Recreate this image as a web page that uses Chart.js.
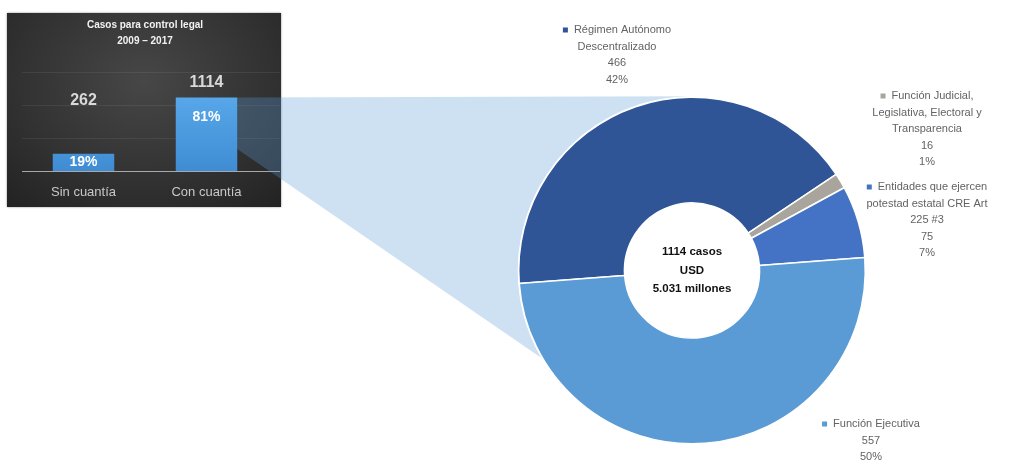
<!DOCTYPE html>
<html>
<head>
<meta charset="utf-8">
<script src="https://cdn.jsdelivr.net/npm/chart.js@4.4.0/dist/chart.umd.min.js"></script>
<style>
  html, body { margin: 0; padding: 0; background: #fff; width: 1018px; height: 462px; overflow: hidden; }
  #stage { position: relative; width: 1018px; height: 462px; }
  #inset {
    position: absolute; left: 7px; top: 13px; width: 274px; height: 194px;
    background: radial-gradient(ellipse 75% 85% at 50% 35%, #474747 0%, #323232 60%, #232323 100%);
    box-shadow: 0 0 2px rgba(0,0,0,0.45);
  }
  #barCanvas { position: absolute; left: 0; top: 0; }
  #donutCanvas { position: absolute; left: 0; top: 0; }
</style>
</head>
<body>
<div id="stage">
  <div id="inset"><canvas id="barCanvas" width="274" height="194"></canvas></div>
  <canvas id="donutCanvas" width="1018" height="462"></canvas>
</div>
<script>
// Inset: cases under legal control, 2009 – 2017
const barCategories = ['Sin cuantía', 'Con cuantía'];
const barValues = [262, 1114];
const barTitle = ['Casos para control legal', '2009 – 2017'];
const barGridTicks = [0, 500, 1000, 1500];

// Breakdown of the cases with an amount, by sector
const sectorNames = [
  'Régimen Autónomo Descentralizado',
  'Función Judicial, Legislativa, Electoral y Transparencia',
  'Entidades que ejercen potestad estatal CRE Art 225 #3',
  'Función Ejecutiva'
];
const sectorLines = [
  ['Régimen Autónomo', 'Descentralizado'],
  ['Función Judicial,', 'Legislativa, Electoral y', 'Transparencia'],
  ['Entidades que ejercen', 'potestad estatal CRE Art', '225 #3'],
  ['Función Ejecutiva']
];
const sectorValues = [466, 16, 75, 557];
const centerLines = ['1114 casos', 'USD', '5.031 millones'];

// ---- styling / layout ----
const FONT = "'Liberation Sans', Arial, sans-serif";
const sectorColors = ['#2F5597', '#A9A59D', '#4472C4', '#5B9BD5'];
const labelAnchors = [ {x: 617, y: 30}, {x: 927, y: 96}, {x: 927, y: 187}, {x: 871, y: 424} ];
const labelLineH = 16.6;
const insetOffset = {x: 7, y: 13};
const valueLift = [53, 15];

const pct = (v, arr) => Math.round(v / arr.reduce((a, b) => a + b, 0) * 100);

const insetText = {
  id: 'insetText',
  beforeDatasetsDraw(chart) {
    const {ctx, chartArea: a, scales: {y}} = chart;
    ctx.save();
    barGridTicks.forEach(v => {
      const py = Math.round(y.getPixelForValue(v)) + 0.5;
      ctx.strokeStyle = v === 0 ? 'rgba(210,210,210,0.75)' : 'rgba(255,255,255,0.07)';
      ctx.lineWidth = 1;
      ctx.beginPath(); ctx.moveTo(a.left, py); ctx.lineTo(a.right + 12, py); ctx.stroke();
    });
    ctx.restore();
  },
  afterDatasetsDraw(chart) {
    const {ctx, chartArea: a} = chart;
    const meta = chart.getDatasetMeta(0);
    const midX = (a.left + a.right) / 2;
    ctx.save();
    ctx.textAlign = 'center';
    ctx.textBaseline = 'middle';
    ctx.fillStyle = '#f2f2f2';
    ctx.font = 'bold 10px ' + FONT;
    ctx.fillText(barTitle[0], midX, 12);
    ctx.fillText(barTitle[1], midX, 28);
    meta.data.forEach((bar, i) => {
      ctx.fillStyle = '#d9d9d9';
      ctx.font = 'bold 16px ' + FONT;
      ctx.fillText(String(barValues[i]), bar.x, bar.y - valueLift[i]);
      ctx.fillStyle = '#ffffff';
      ctx.font = 'bold 14px ' + FONT;
      const py = Math.min(bar.y + 20, (bar.y + bar.base) / 2);
      ctx.fillText(pct(barValues[i], barValues) + '%', bar.x, py);
      ctx.fillStyle = '#c8c8c8';
      ctx.font = '13px ' + FONT;
      ctx.fillText(barCategories[i], bar.x, a.bottom + 21);
    });
    ctx.restore();
  }
};

const barChart = new Chart(document.getElementById('barCanvas'), {
  type: 'bar',
  data: {
    labels: barCategories,
    datasets: [{
      data: barValues,
      backgroundColor: (c) => {
        const {ctx, chartArea} = c.chart;
        if (!chartArea) return '#4f9ad9';
        const g = ctx.createLinearGradient(0, chartArea.top, 0, chartArea.bottom);
        g.addColorStop(0, '#5fb0f2');
        g.addColorStop(1, '#3f8cd2');
        return g;
      },
      borderWidth: 0,
      barPercentage: 0.5,
      categoryPercentage: 1
    }]
  },
  options: {
    responsive: false,
    animation: false,
    events: [],
    layout: { padding: { left: 15, right: 13, top: 59, bottom: 36 } },
    scales: {
      x: { display: false },
      y: { display: false, min: 0, max: 1500, ticks: { stepSize: 500 } }
    },
    plugins: { legend: { display: false }, tooltip: { enabled: false } }
  },
  plugins: [insetText]
});

// Translucent band linking the "Con cuantía" bar to the doughnut
const funnel = {
  id: 'funnel',
  beforeDatasetsDraw(chart) {
    const {ctx} = chart;
    const arc = chart.getDatasetMeta(0).data[0];
    const cx = arc.x, cy = arc.y, r = arc.outerRadius + 1;
    const bar = barChart.getDatasetMeta(0).data[1];
    const bx = insetOffset.x + bar.x + bar.width / 2;
    const top = insetOffset.y + bar.y;
    const low = insetOffset.y + bar.y + 0.7 * (bar.base - bar.y);
    const endAng = 150 * Math.PI / 180;
    ctx.save();
    ctx.beginPath();
    ctx.moveTo(bx, top);
    ctx.lineTo(cx, cy - r);
    ctx.arc(cx, cy, r, -Math.PI / 2, endAng, true);
    ctx.lineTo(bx, low);
    ctx.closePath();
    ctx.fillStyle = 'rgba(91,155,213,0.3)';
    ctx.fill();
    ctx.restore();
  }
};

const donutLabels = {
  id: 'donutLabels',
  afterDatasetsDraw(chart) {
    const {ctx} = chart;
    const arc = chart.getDatasetMeta(0).data[0];
    ctx.save();
    ctx.textBaseline = 'middle';
    // centre text
    ctx.fillStyle = '#111';
    ctx.font = 'bold 11.5px ' + FONT;
    ctx.textAlign = 'center';
    centerLines.forEach((t, k) => ctx.fillText(t, arc.x, arc.y + (k - 1) * 18.5));
    // sector labels
    ctx.font = '11px ' + FONT;
    sectorValues.forEach((v, i) => {
      const lines = [...sectorLines[i], String(v), pct(v, sectorValues) + '%'];
      const an = labelAnchors[i];
      lines.forEach((t, k) => {
        const y = an.y + k * labelLineH;
        ctx.fillStyle = '#636363';
        if (k === 0) {
          const w = ctx.measureText(t).width;
          const sq = 5, gap = 6;
          const x0 = an.x - (sq + gap + w) / 2;
          ctx.fillStyle = sectorColors[i];
          ctx.fillRect(x0, y - sq / 2, sq, sq);
          ctx.fillStyle = '#636363';
          ctx.textAlign = 'left';
          ctx.fillText(t, x0 + sq + gap, y);
        } else {
          ctx.textAlign = 'center';
          ctx.fillText(t, an.x, y);
        }
      });
    });
    ctx.restore();
  }
};

const donut = new Chart(document.getElementById('donutCanvas'), {
  type: 'doughnut',
  data: {
    labels: sectorNames,
    datasets: [{
      data: sectorValues,
      backgroundColor: sectorColors,
      borderColor: '#ffffff',
      borderWidth: 1.5
    }]
  },
  options: {
    responsive: false,
    animation: false,
    events: [],
    rotation: 265.7,
    cutout: '39%',
    layout: { padding: { left: 518, right: 152, top: 96, bottom: 17 } },
    plugins: { legend: { display: false }, tooltip: { enabled: false } }
  },
  plugins: [funnel, donutLabels]
});
</script>
</body>
</html>
